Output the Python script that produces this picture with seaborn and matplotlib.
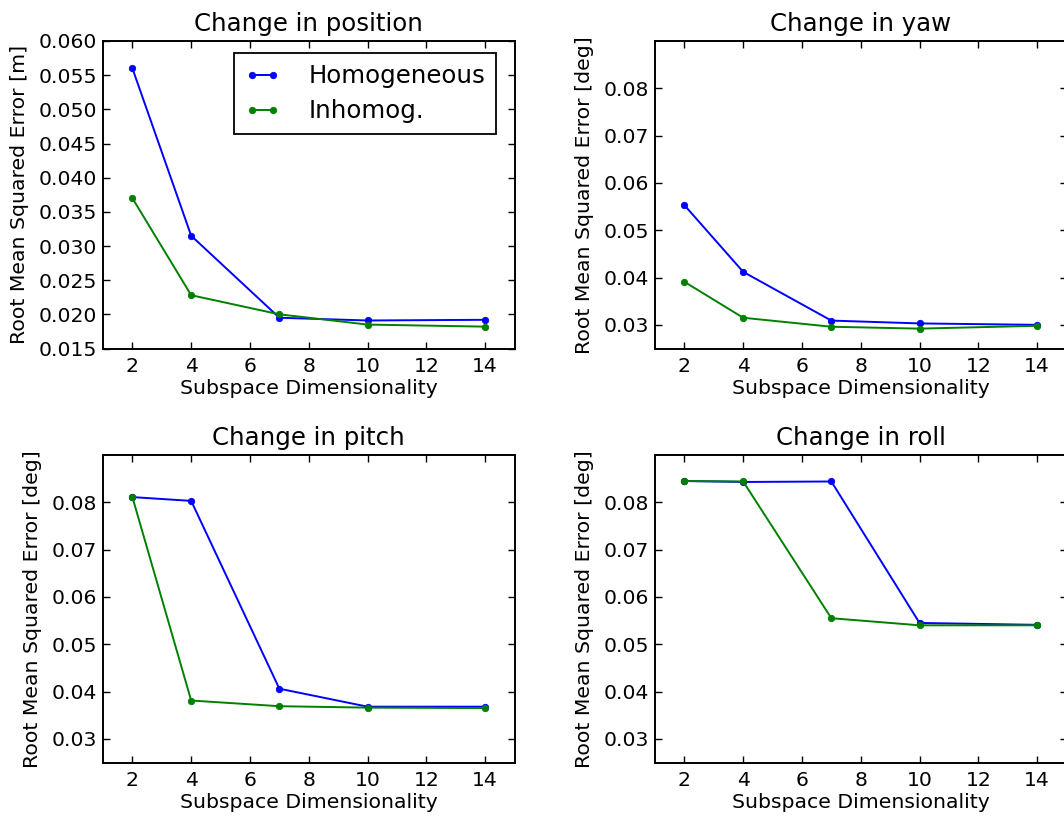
import matplotlib
matplotlib.use("Agg")
import matplotlib.pyplot as plt
import seaborn as sns
import pandas as pd
from matplotlib.ticker import FormatStrFormatter

# ---- data ----
dims = [2, 4, 7, 10, 14]
series_names = ["Homogeneous", "Inhomog."]

pos_homog = [0.0560, 0.0315, 0.0195, 0.0191, 0.0192]
pos_inhom = [0.0370, 0.0228, 0.0200, 0.0185, 0.0182]

yaw_homog = [0.0553, 0.0412, 0.0309, 0.0303, 0.0300]
yaw_inhom = [0.0391, 0.0315, 0.0296, 0.0292, 0.0298]

pitch_homog = [0.0811, 0.0803, 0.0406, 0.0368, 0.0368]
pitch_inhom = [0.0811, 0.0381, 0.0369, 0.0366, 0.0365]

roll_homog = [0.0845, 0.0843, 0.0844, 0.0545, 0.0541]
roll_inhom = [0.0845, 0.0844, 0.0555, 0.0540, 0.0540]

titles = ["Change in position", "Change in yaw", "Change in pitch", "Change in roll"]
ylabels = ["Root Mean Squared Error [m]", "Root Mean Squared Error [deg]",
           "Root Mean Squared Error [deg]", "Root Mean Squared Error [deg]"]
xlabel = "Subspace Dimensionality"
xticks = [2, 4, 6, 8, 10, 12, 14]
pos_yticks = [0.015, 0.020, 0.025, 0.030, 0.035, 0.040, 0.045, 0.050, 0.055, 0.060]
ang_yticks = [0.03, 0.04, 0.05, 0.06, 0.07, 0.08]

panels = [
    (pos_homog, pos_inhom),
    (yaw_homog, yaw_inhom),
    (pitch_homog, pitch_inhom),
    (roll_homog, roll_inhom),
]

# ---- style ----
sns.set_style("ticks")
plt.rcParams.update({
    "font.family": ["DejaVu Sans"],
    "font.size": 14.7,
    "xtick.direction": "in",
    "ytick.direction": "in",
    "xtick.top": True,
    "ytick.right": True,
    "xtick.major.size": 5,
    "ytick.major.size": 5,
    "xtick.major.width": 1.0,
    "ytick.major.width": 1.0,
    "xtick.color": "black",
    "ytick.color": "black",
    "xtick.labelsize": 14.7,
    "ytick.labelsize": 14.7,
    "axes.labelsize": 14.7,
    "axes.titlesize": 17.6,
    "axes.edgecolor": "black",
    "axes.linewidth": 1.4,
    "axes.labelcolor": "black",
    "text.color": "black",
    "axes.grid": False,
})

W, H = 1064, 819
fig = plt.figure(figsize=(W / 100, H / 100), dpi=100)

ax_w, ax_h = 411.5, 307.5
lefts = [103, 655]
tops = [41, 455]
positions = [(lefts[0], tops[0]), (lefts[1], tops[0]), (lefts[0], tops[1]), (lefts[1], tops[1])]

colors = {"Homogeneous": "#0000ff", "Inhomog.": "#008000"}

for i, ((homog, inhom), (lx, ty)) in enumerate(zip(panels, positions)):
    ax = fig.add_axes([lx / W, (H - ty - ax_h) / H, ax_w / W, ax_h / H])
    df = pd.DataFrame({
        "dim": dims * 2,
        "rmse": list(homog) + list(inhom),
        "method": [series_names[0]] * len(dims) + [series_names[1]] * len(dims),
    })
    sns.lineplot(data=df, x="dim", y="rmse", hue="method", palette=colors,
                 hue_order=series_names, marker="o", markersize=4.6,
                 markeredgewidth=0.6, linewidth=1.4, estimator=None,
                 ax=ax, legend=False)
    for ln, nm in zip(ax.lines, series_names):
        ln.set_markeredgecolor(colors[nm])
    ax.set_xlim(1, 15)
    ax.set_xticks(xticks)
    if i == 0:
        ax.set_ylim(0.015, 0.060)
        ax.set_yticks(pos_yticks)
        ax.yaxis.set_major_formatter(FormatStrFormatter("%.3f"))
    else:
        ax.set_ylim(0.025, 0.09)
        ax.set_yticks(ang_yticks)
        ax.yaxis.set_major_formatter(FormatStrFormatter("%.2f"))
    ax.set_title(titles[i], pad=7)
    ax.set_xlabel(xlabel, labelpad=2)
    ax.set_ylabel(ylabels[i], labelpad=7)
    ax.tick_params(axis="y", which="major", pad=4)
    ax.tick_params(axis="x", which="major", pad=6)
    for s in ax.spines.values():
        s.set_visible(True)
    if i == 0:
        leg = ax.legend(handles=ax.lines[:2], labels=series_names,
                        loc="upper right", bbox_to_anchor=(0.956, 0.96),
                        fontsize=17.6, frameon=True, fancybox=False,
                        edgecolor="black", framealpha=1, borderpad=0.45,
                        handlelength=1.45, handletextpad=1.15, labelspacing=0.45,
                        borderaxespad=0.0, numpoints=2)
        leg.get_frame().set_linewidth(1.3)

fig.savefig("out.png", dpi=100)
